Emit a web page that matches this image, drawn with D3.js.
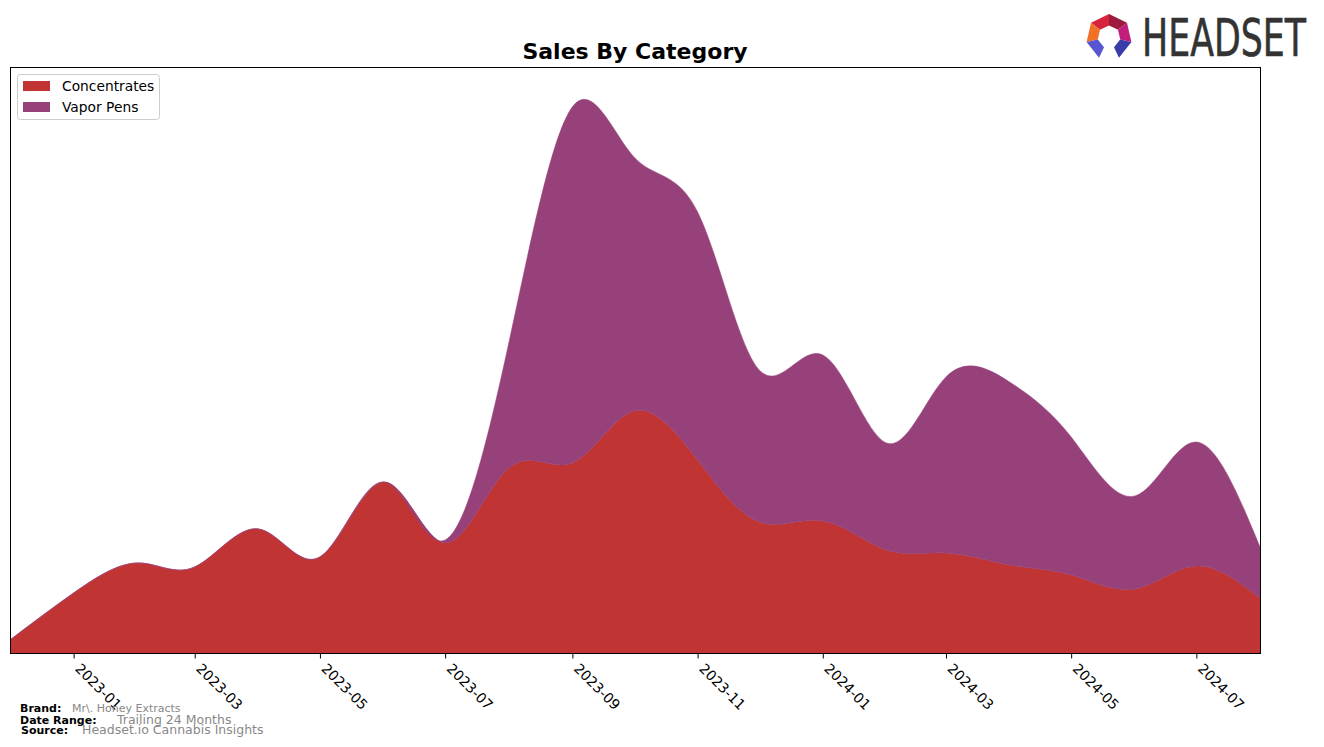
<!DOCTYPE html>
<html>
<head>
<meta charset="utf-8">
<script src="https://cdn.jsdelivr.net/npm/d3@7"></script>
<style>
  html, body { margin: 0; padding: 0; background: #fff; }
  svg { display: block; font-family: "DejaVu Sans", sans-serif; }
</style>
</head>
<body>
<svg id="chart" width="1324" height="747"></svg>
<script>
// ---- data (monthly) ----
const months = ["2022-12","2023-01","2023-02","2023-03","2023-04","2023-05","2023-06","2023-07",
  "2023-08","2023-09","2023-10","2023-11","2023-12","2024-01","2024-02","2024-03","2024-04",
  "2024-05","2024-06","2024-07","2024-08"];
const concentrates = [1300, 6000, 9000, 8600, 12400, 9600, 17100, 11000, 18500, 19000, 24200, 19300,
  13100, 13200, 10300, 10000, 8800, 7800, 6400, 8700, 5500];
const vaporPens = [0, 0, 0, 0, 0, 0, 0, 300, 12500, 35600, 25400, 24800, 15200, 16600, 10700, 17600,
  18300, 13800, 9300, 12400, 5100];
const categories = ["Concentrates", "Vapor Pens"];
const colors = ["#C03434", "#96417A"];
const tickLabels = ["2023-01","2023-03","2023-05","2023-07","2023-09","2023-11","2024-01","2024-03","2024-05","2024-07"];

const svg = d3.select("#chart");
const M = { left: 10, right: 1260, top: 67, bottom: 653 };
const parse = d3.timeParse("%Y-%m");

const rows = months.map((m, i) => ({ date: parse(m), "Concentrates": concentrates[i], "Vapor Pens": vaporPens[i] }));

const x = d3.scaleTime().domain([parse(months[0]), parse(months[months.length - 1])]).range([M.left, M.right]);
const totals = rows.map(r => r["Concentrates"] + r["Vapor Pens"]);
const y = d3.scaleLinear().domain([0, d3.max(totals) * 1.073]).range([M.bottom, M.top]);

const stack = d3.stack().keys(categories);
const series = stack(rows);

svg.append("defs").append("clipPath").attr("id", "clip")
  .append("rect").attr("x", M.left).attr("y", M.top).attr("width", M.right - M.left).attr("height", M.bottom - M.top);

const area = d3.area()
  .curve(d3.curveNatural)
  .x(d => x(d.data.date))
  .y0(d => y(d[0]))
  .y1(d => y(d[1]));

svg.append("g").attr("clip-path", "url(#clip)")
  .selectAll("path").data(series).join("path")
  .attr("d", area)
  .attr("fill", (d, i) => colors[i])
  .attr("stroke", (d, i) => colors[i])
  .attr("stroke-width", 0.5);

// frame
svg.append("rect").attr("x", M.left + 0.5).attr("y", M.top + 0.5)
  .attr("width", M.right - M.left).attr("height", M.bottom - M.top)
  .attr("fill", "none").attr("stroke", "#000").attr("stroke-width", 1);

// x axis
const tickDates = tickLabels.map(parse);
const xAxis = d3.axisBottom(x).tickValues(tickDates).tickSize(5).tickPadding(0).tickFormat(() => "");
const gx = svg.append("g").attr("transform", `translate(0,${M.bottom + 0.5})`).call(xAxis);
gx.select(".domain").remove();
gx.selectAll(".tick line").attr("stroke", "#000");
svg.append("g").selectAll("text").data(tickDates).join("text")
  .attr("transform", d => `translate(${x(d) + 4},${M.bottom + 13}) rotate(45)`)
  .attr("text-anchor", "start")
  .attr("dy", "0.35em")
  .attr("font-size", 14)
  .attr("fill", "#000")
  .text((d, i) => tickLabels[i]);

// title
svg.append("text").attr("x", (M.left + M.right) / 2).attr("y", 59)
  .attr("text-anchor", "middle").attr("font-size", 22).attr("font-weight", "bold")
  .text("Sales By Category");

// legend
const lg = svg.append("g");
lg.append("rect").attr("x", 17.5).attr("y", 74.5).attr("width", 142).attr("height", 45)
  .attr("rx", 3).attr("fill", "#fff").attr("fill-opacity", 0.8).attr("stroke", "#ccc");
categories.forEach((c, i) => {
  lg.append("rect").attr("x", 23).attr("y", 81 + i * 21).attr("width", 27).attr("height", 10).attr("fill", colors[i]);
  lg.append("text").attr("x", 62).attr("y", 91 + i * 21).attr("font-size", 13.8).text(c);
});

// footer
const ft = svg.append("g").attr("font-size", 11);
ft.append("text").attr("x", 20).attr("y", 712).attr("font-weight", "bold").text("Brand:");
ft.append("text").attr("x", 72).attr("y", 712).attr("fill", "#888").text("Mr\\. Honey Extracts");
ft.append("text").attr("x", 20).attr("y", 724).attr("font-weight", "bold").text("Date Range:");
ft.append("text").attr("x", 117).attr("y", 724).attr("fill", "#888").attr("font-size", 12.5).text("Trailing 24 Months");
ft.append("text").attr("x", 21).attr("y", 734).attr("font-weight", "bold").text("Source:");
ft.append("text").attr("x", 82).attr("y", 734).attr("fill", "#888").attr("font-size", 12.5).text("Headset.io Cannabis Insights");

// logo
const logo = svg.append("g");
const cx = 1109, cy = 37, R = 23, r = 11.5;
const pt = (k, rad) => {
  const a = (-90 + k * 360 / 7) * Math.PI / 180;
  return [cx + rad * Math.cos(a), cy + rad * Math.sin(a)];
};
const segs = [
  { a: 6, b: 7, c: "#D8243A" },
  { a: 0, b: 1, c: "#9C1B3C" },
  { a: 1, b: 2, c: "#C21F7C" },
  { a: 5, b: 6, c: "#F07127" },
  { a: 2, b: 3, c: "#3A3AA8" },
  { a: 4, b: 5, c: "#5656D0" }
];
segs.forEach(s => {
  const p = [pt(s.a, R), pt(s.b, R), pt(s.b, r), pt(s.a, r)];
  logo.append("polygon").attr("points", p.map(q => q.join(",")).join(" ")).attr("fill", s.c);
});
logo.append("text").attr("x", 1142).attr("y", 56).attr("font-family", "'Liberation Sans Narrow', 'DejaVu Sans Condensed', sans-serif")
  .attr("font-size", 52).attr("fill", "#333").attr("stroke", "#333").attr("stroke-width", 0.6)
  .attr("textLength", 164).attr("lengthAdjust", "spacingAndGlyphs")
  .text("HEADSET");
</script>
</body>
</html>
